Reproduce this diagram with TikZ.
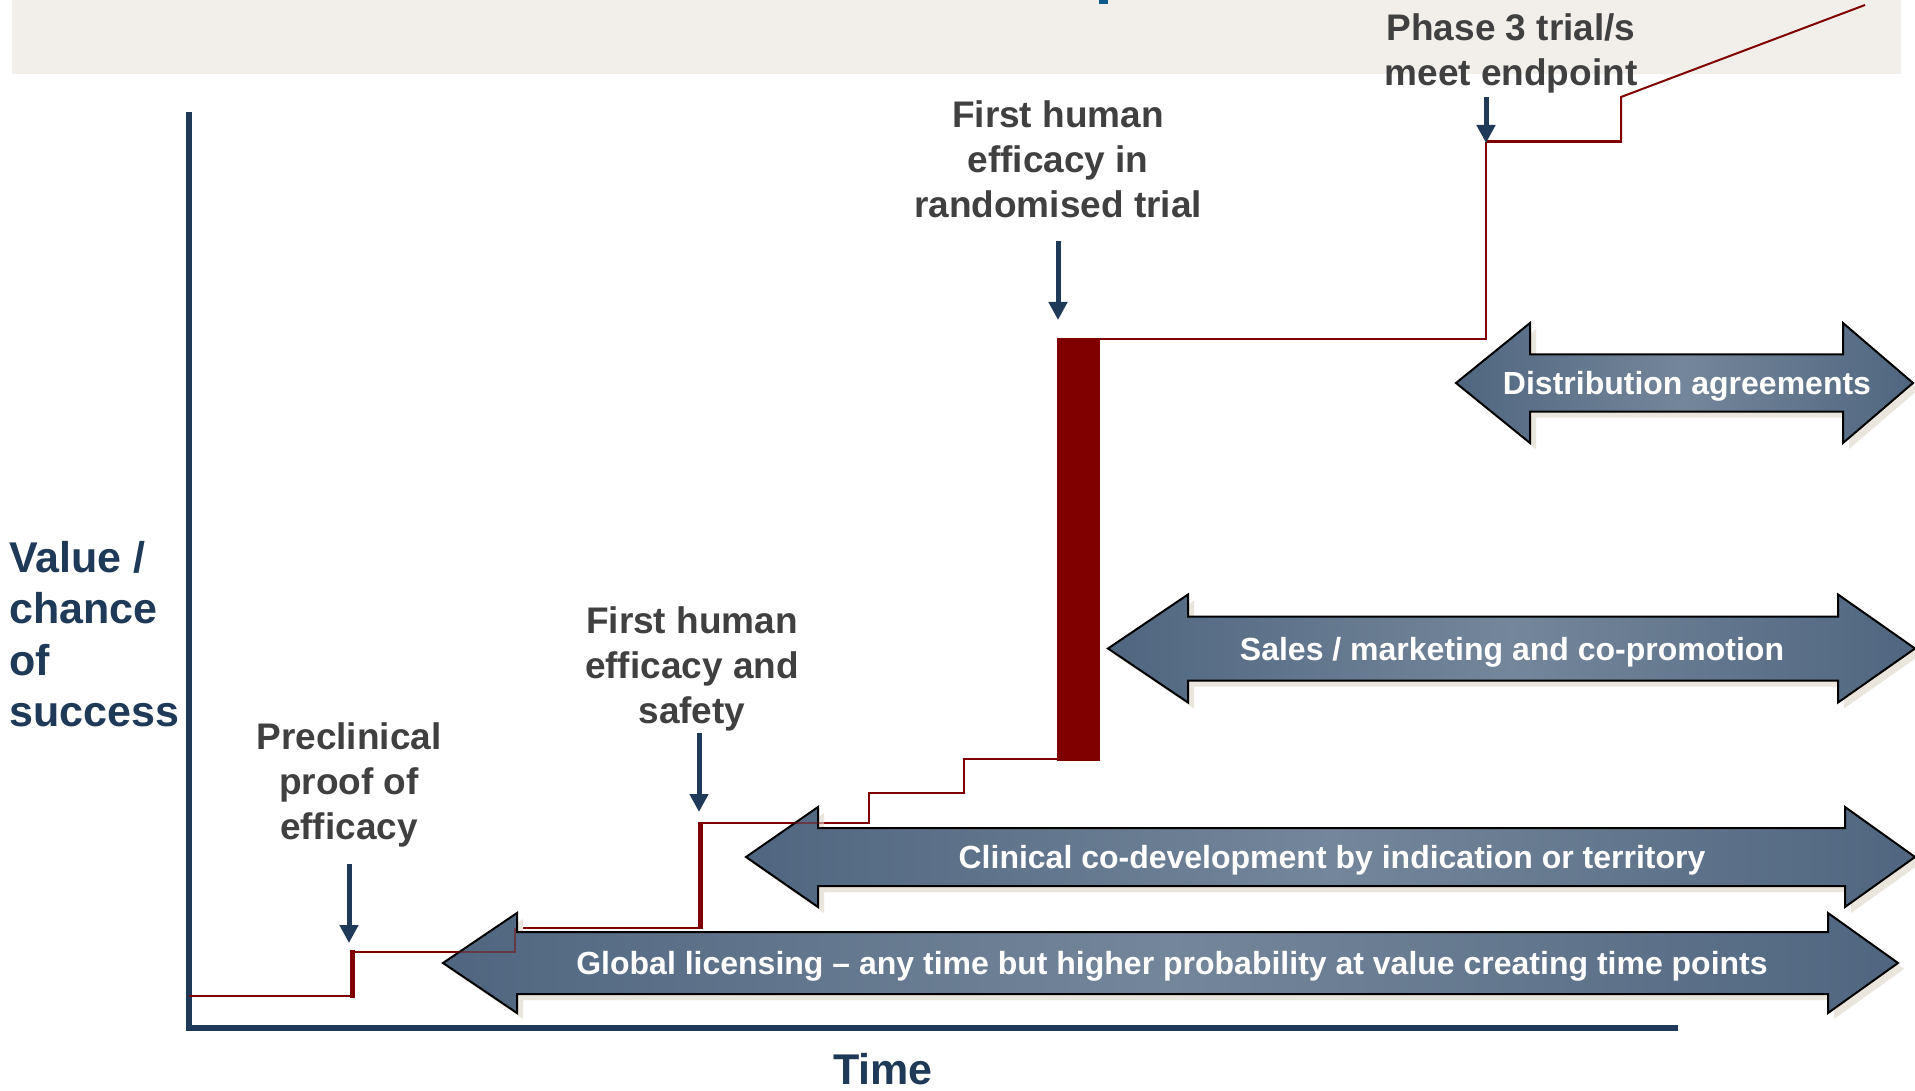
\documentclass[tikz,border=0pt]{standalone}
\usepackage{fontspec}
\setmainfont{Liberation Sans}
\usetikzlibrary{arrows.meta}

\definecolor{navy}{RGB}{31,57,88}
\definecolor{darkred}{RGB}{128,0,0}
\definecolor{labelgray}{RGB}{64,64,64}
\definecolor{bandc}{RGB}{242,239,234}
\definecolor{shadowc}{RGB}{234,230,221}
\definecolor{arrowdark}{RGB}{80,102,128}
\definecolor{arrowlight}{RGB}{116,134,154}
\definecolor{titleblue}{RGB}{15,90,140}

% double-headed block arrow:
% #1 left tip x, #2 left head base x, #3 right head base x, #4 right tip x,
% #5 centre y, #6 half body height, #7 half head height
\newcommand\dblblock[7]{%
  \fill[shadowc, shift={(6,6)}]
    (#1,#5) -- (#2,{#5-#7}) -- (#2,{#5-#6}) -- (#3,{#5-#6}) -- (#3,{#5-#7})
    -- (#4,#5) -- (#3,{#5+#7}) -- (#3,{#5+#6}) -- (#2,{#5+#6}) -- (#2,{#5+#7}) -- cycle;
  \shadedraw[blockarrow]
    (#1,#5) -- (#2,{#5-#7}) -- (#2,{#5-#6}) -- (#3,{#5-#6}) -- (#3,{#5-#7})
    -- (#4,#5) -- (#3,{#5+#7}) -- (#3,{#5+#6}) -- (#2,{#5+#6}) -- (#2,{#5+#7}) -- cycle;
}

\begin{document}
\begin{tikzpicture}[x=1pt,y=-1pt,
  lbl/.style={text=labelgray, font=\fontsize{37}{45}\selectfont\bfseries,
    align=center, inner sep=0pt, anchor=north},
  barlbl/.style={text=white, font=\fontsize{32}{38}\selectfont\bfseries,
    inner sep=0pt, anchor=base},
  axislbl/.style={text=navy, font=\fontsize{43}{51.5}\selectfont\bfseries,
    inner sep=0pt},
  pointer/.style={draw=navy, line width=5pt, -{Triangle[width=18pt,length=18pt]}},
  thinred/.style={draw=darkred, line width=2pt},
  thickred/.style={draw=darkred, line width=5pt},
  blockarrow/.style={draw=black, line width=2pt, line join=miter,
    left color=arrowdark, right color=arrowdark, middle color=arrowlight},
]
\useasboundingbox (0,0) rectangle (1915,1091);
\fill[white] (0,0) rectangle (1915,1091);

% title band
\fill[bandc] (12,0) rectangle (1901,74);
\fill[titleblue] (1099,0) rectangle (1108,4);

% axes
\draw[navy, line width=5.5pt, line join=miter] (189,112) -- (189,1028) -- (1678,1028);

% value staircase
\draw[thinred] (189,996) -- (352,996) -- (352,952) -- (515,952) -- (515,928)
  -- (700,928) -- (700,823) -- (869,823) -- (869,793) -- (964,793)
  -- (964,759) -- (1057,759);
\draw[thickred] (352.5,998) -- (352.5,950);
\draw[thickred] (700.5,929) -- (700.5,822);
\fill[darkred] (1057,338) rectangle (1100,761);
\draw[thinred] (1100,339) -- (1486,339) -- (1486,142);
\draw[darkred, line width=3pt] (1486,142) -- (1621,142);
\draw[thinred] (1621,143) -- (1621,97) -- (1865,5);

% deal-type arrows
\dblblock{1456}{1530}{1843}{1913}{383}{28.5}{60}
\dblblock{1108}{1188}{1838}{1915}{648.5}{32}{54}
\dblblock{746}{818}{1845}{1915}{857}{29}{50}
\dblblock{443}{517}{1828}{1898}{963}{31}{50}

% staircase seen through the arrow heads
\draw[thinred, draw opacity=0.45] (443,952) -- (515,952) -- (515,928);
\draw[thinred, draw opacity=0.45] (790,823) -- (869,823);

\node[barlbl] (dist) at (1687,395) {Distribution agreements};
\node[barlbl] (sales) at (1512,660) {Sales / marketing and co-promotion};
\node[barlbl] (clin) at (1332,868) {Clinical co-development by indication or territory};
\node[barlbl] (glob) at (1172,974) {Global licensing -- any time but higher probability at value creating time points};

% milestones
\node[lbl] (phase) at (1511,13) {Phase 3 trial/s\\meet endpoint};
\node[lbl] (rand) at (1058,100) {First human\\efficacy in\\randomised trial};
\node[lbl] (safety) at (692,606) {First human\\efficacy and\\safety};
\node[lbl] (precl) at (349,722) {Preclinical\\proof of\\efficacy};

\coordinate (phaseA) at (1486,97);  \coordinate (phaseB) at (1486,143);
\coordinate (randA) at (1058,241);  \coordinate (randB) at (1058,320);
\coordinate (safeA) at (699,733);   \coordinate (safeB) at (699,812);
\coordinate (preA) at (349,864);    \coordinate (preB) at (349,943);
\draw[pointer] (phaseA) -- (phaseB);
\draw[pointer] (randA) -- (randB);
\draw[pointer] (safeA) -- (safeB);
\draw[pointer] (preA) -- (preB);

% axis titles
\node[axislbl, anchor=north west, align=left] (yaxis) at (9,541) {Value /\\chance\\of\\success};
\node[axislbl, anchor=north] (xaxis) at (883,1053) {Time};
\end{tikzpicture}
\end{document}
